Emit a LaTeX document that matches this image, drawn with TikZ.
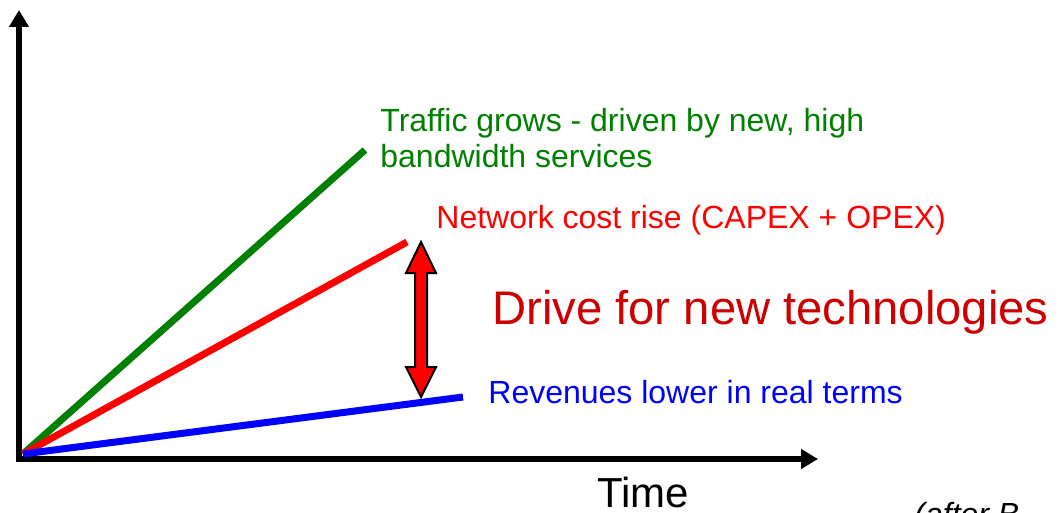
\documentclass[tikz,border=0pt]{standalone}
\usepackage{fontspec}
\setmainfont{Liberation Sans}
\usetikzlibrary{arrows.meta, positioning}
\definecolor{trafficgreen}{RGB}{0,128,0}
\definecolor{costred}{RGB}{255,0,0}
\definecolor{revblue}{RGB}{0,0,255}
\definecolor{driveRed}{RGB}{204,0,0}
\tikzset{
  axis/.style={draw=black,line width=3pt,line join=miter,
    {Triangle[length=8.5pt,width=9.5pt]}-{Triangle[length=8.5pt,width=9.5pt]}},
  trend/.style={line width=3.5pt,line cap=butt},
  lbl/.style={anchor=base west,inner sep=0pt,font=\fontsize{16}{18}\selectfont},
  gap/.style={draw=black,line width=1pt,fill=costred,line join=miter}
}

\begin{document}
\begin{tikzpicture}[x=0.5pt,y=-0.5pt]
  \useasboundingbox (0,0) rectangle (1059,513);

  % Axes
  \coordinate (xtip) at (818,459);
  \coordinate (ytip) at (19,10);
  \draw[axis] (xtip) -| (ytip);
  \node[anchor=base,inner sep=0pt,font=\fontsize{21}{25}\selectfont] at (643,507) (time){Time};

  % Trends
  \coordinate (origin) at (23,454);
  \coordinate (trafficend) at (365,150);
  \coordinate (costend) at (407,242);
  \coordinate (revend) at (463,397);
  \draw[trend,trafficgreen] (origin) -- (trafficend);
  \draw[trend,costred] (origin) -- (costend);
  \draw[trend,revblue] (origin) -- (revend);

  % Labels
  \node[lbl,text=trafficgreen,align=left] at (380,168) (traffic){Traffic grows - driven by new, high\\bandwidth services};
  \node[lbl,text=costred] at (436,228) (cost){Network cost rise (CAPEX + OPEX)};
  \node[lbl,text=revblue] at (488,403) (rev){Revenues lower in real terms};
  \node[lbl,text=driveRed,font=\fontsize{23.6}{28}\selectfont] at (492,324) (drive){Drive for new technologies};
  \node[lbl,font=\fontsize{16}{18}\selectfont\itshape] at (914,525) (after){(after B.};

  % Gap arrow
  \draw[gap] (421,242) -- (436,273) -- (427,273) -- (427,367) -- (436,367)
    -- (421,397) -- (406,367) -- (415,367) -- (415,273) -- (406,273) -- cycle;
\end{tikzpicture}
\end{document}
